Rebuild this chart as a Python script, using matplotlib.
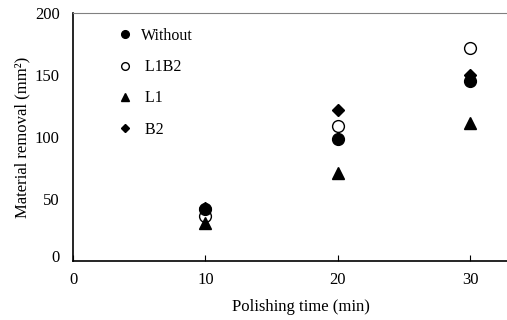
import matplotlib
matplotlib.use("Agg")
import matplotlib.pyplot as plt
from matplotlib.transforms import ScaledTranslation

plt.rcParams['font.family'] = ['Liberation Serif', 'DejaVu Serif']

times = [10, 20, 30]
without = [42, 98, 145]
l1b2 = [36, 109, 172]
l1 = [31, 71, 111]
b2 = [43, 122, 150]

xticks = [0, 10, 20, 30]
yticks = [0, 50, 100, 150, 200]

fig = plt.figure(figsize=(5.07, 3.2), dpi=100)
ax = fig.add_axes([73/507, 59/320, 437/507, 248/320])

ms = 8.5
ax.plot(times, without, 'o', color='black', ms=ms, label='Without', zorder=3)
ax.plot(times, l1b2, 'o', mfc='white', mec='black', mew=1.0, ms=ms, label=' L1B2', zorder=2)
ax.plot(times, l1, '^', color='black', ms=ms, label=' L1', zorder=4)
ax.plot(times, b2, 'D', color='black', ms=ms*0.75, label=' B2', zorder=2)

ax.set_xlim(0, 33)
ax.set_ylim(0, 200)
ax.set_xticks(xticks)
ax.set_yticks(yticks)
ax.tick_params(axis='x', direction='in', length=4, width=0.8, pad=8, labelsize=12)
ax.tick_params(axis='y', length=0, pad=9.5, labelsize=12)

ax.spines['right'].set_visible(False)
ax.spines['top'].set_color('#808080')
ax.spines['top'].set_linewidth(0.8)
ax.spines['left'].set_linewidth(1.2)
ax.spines['bottom'].set_linewidth(1.2)

ax.set_xlabel('Polishing time (min)', fontsize=12)
ax.xaxis.set_label_coords((301-73)/437, (261-307)/248)
ax.xaxis.label.set_va('center')
ax.set_ylabel('Material removal (mm²)', fontsize=12)
ax.yaxis.set_label_coords((22-73)/437, 0.5)
ax.yaxis.label.set_va('center')

fig.canvas.draw()
lbl0 = ax.get_yticklabels()[0]
lbl0.set_transform(lbl0.get_transform() + ScaledTranslation(0, 5/100, fig.dpi_scale_trans))

leg = ax.legend(loc='upper left', bbox_to_anchor=((117-73)/437, (261-28)/248),
                frameon=False, fontsize=11.5, markerscale=0.65,
                handlelength=1.0, handletextpad=0.5, labelspacing=0.95,
                borderaxespad=0, borderpad=0)

fig.savefig('out.png', dpi=100)
